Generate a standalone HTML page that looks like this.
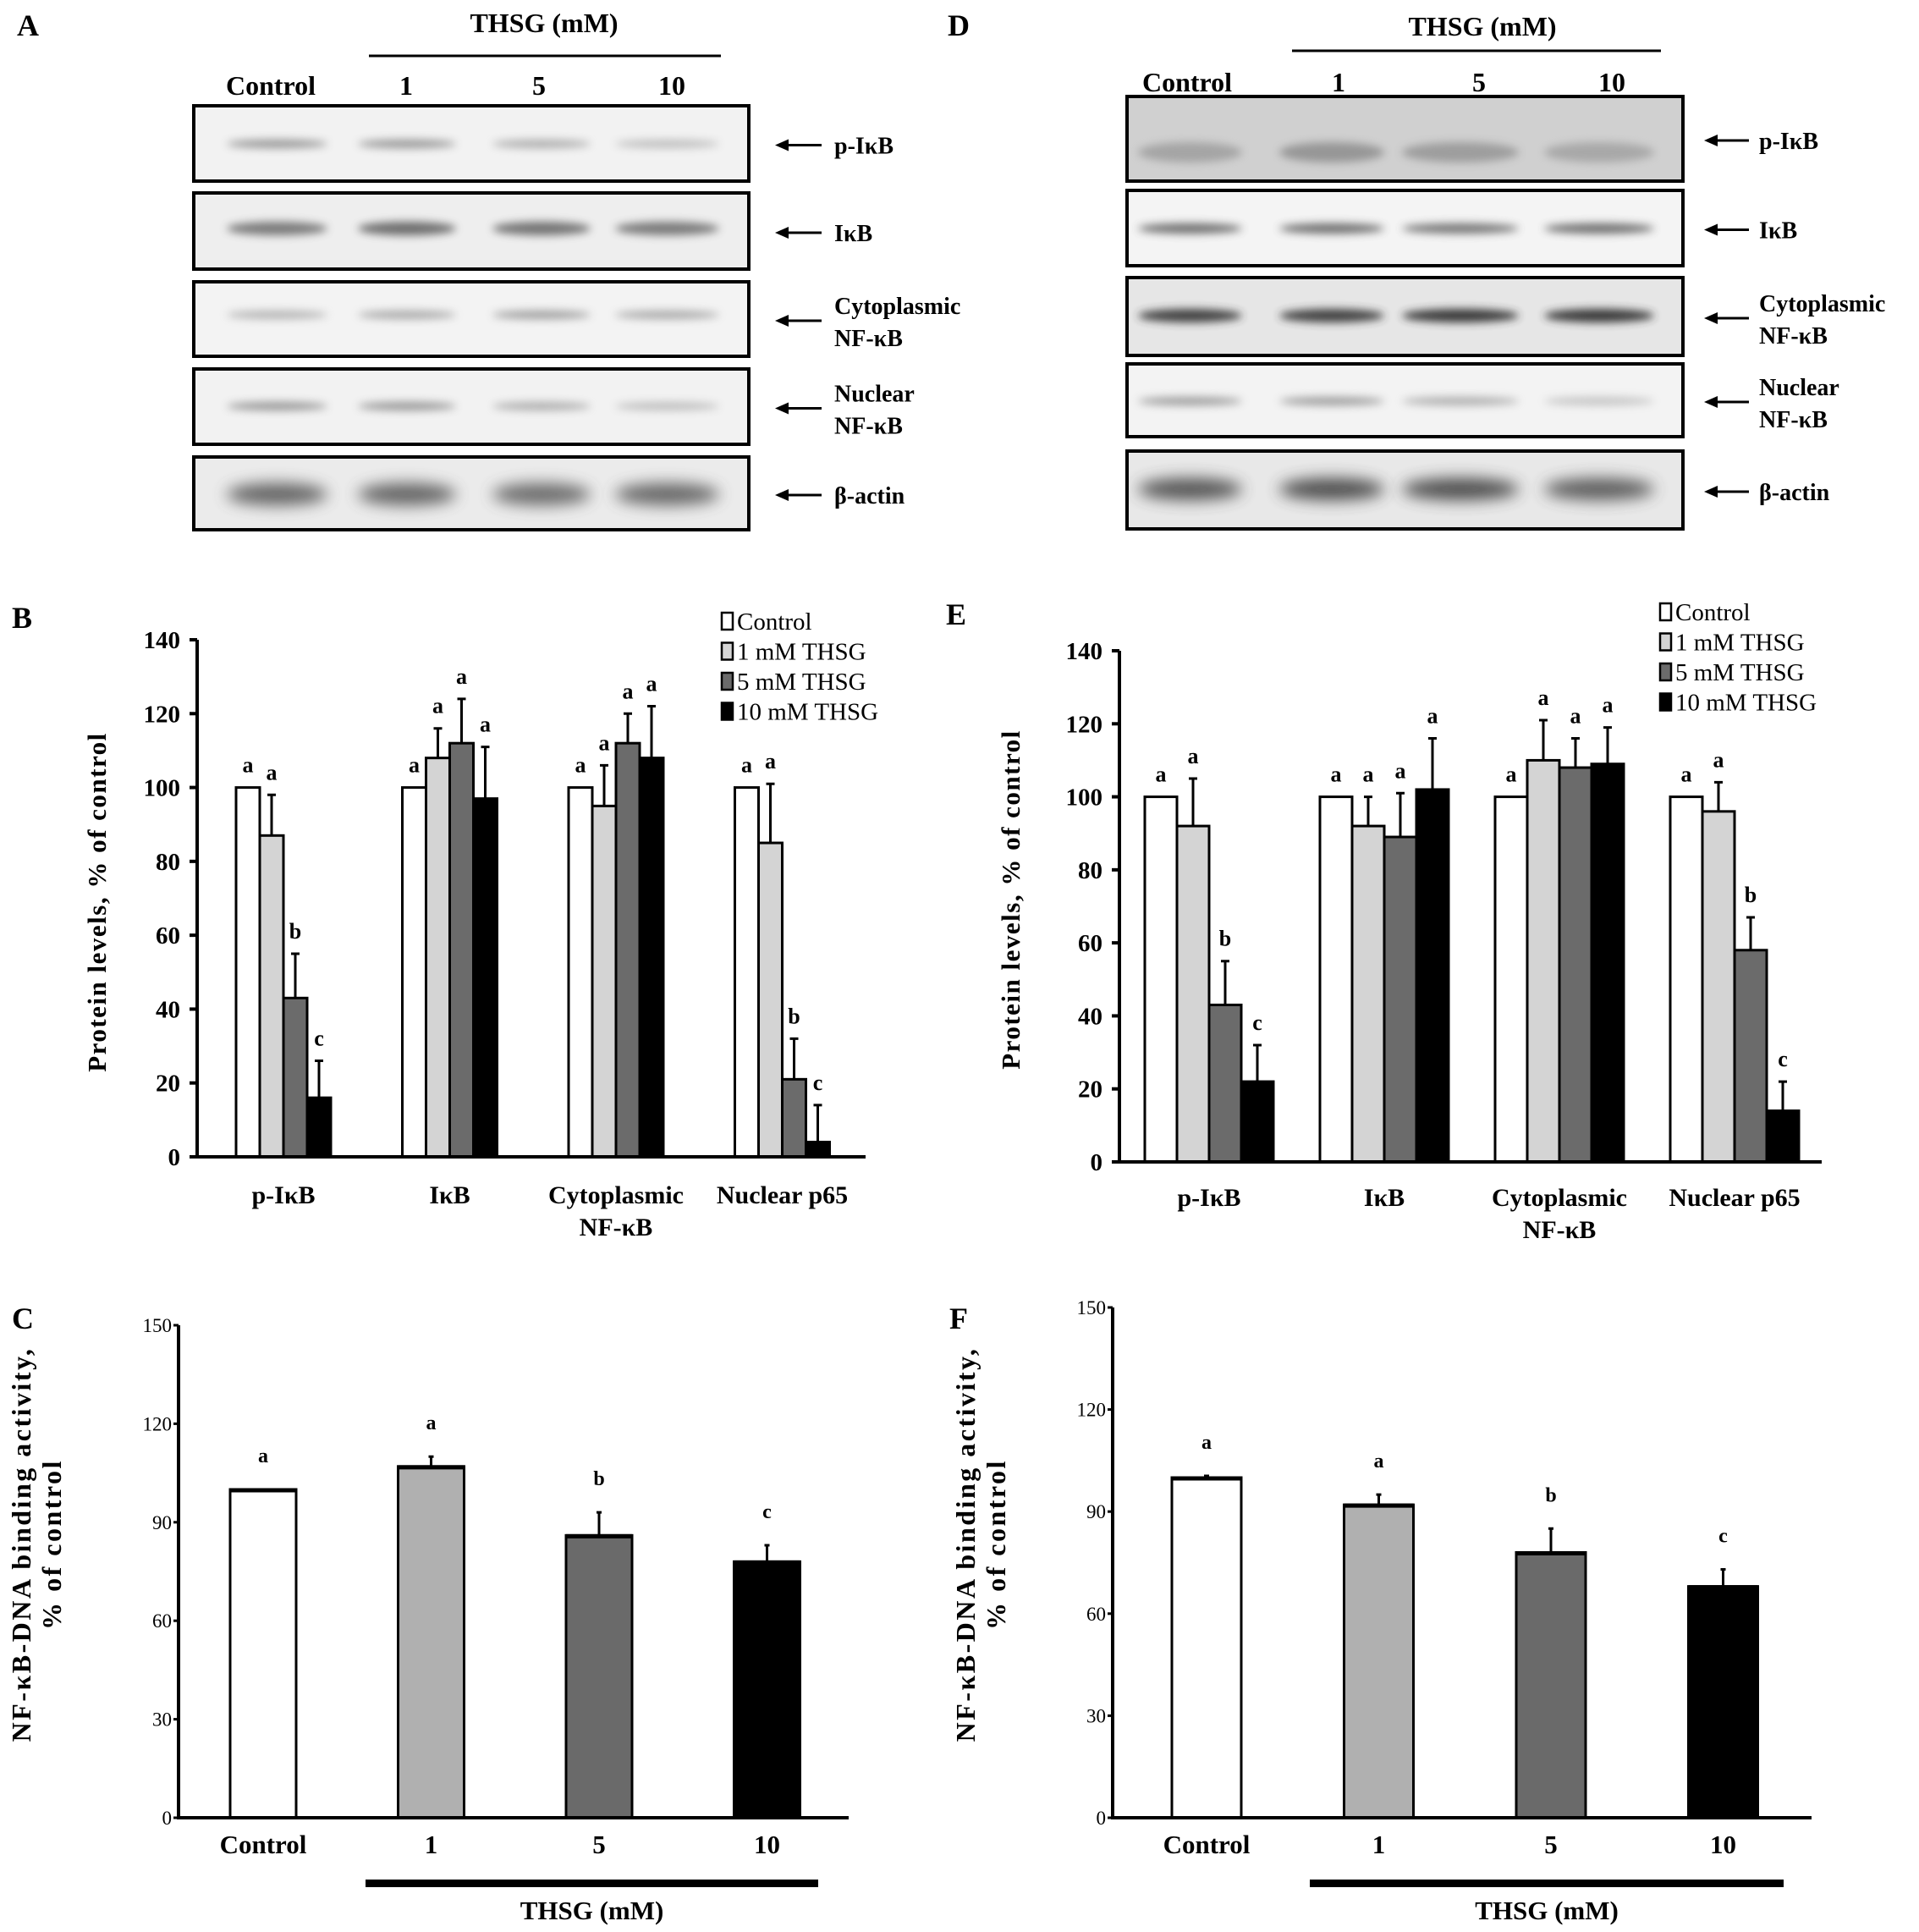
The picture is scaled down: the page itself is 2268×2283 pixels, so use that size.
<!DOCTYPE html>
<html><head><meta charset="utf-8"><style>
html,body{margin:0;padding:0;background:#fff}
svg{display:block}
text{font-family:"Liberation Serif",serif}
.b{font-weight:bold}
</style></head><body>
<svg id="fig" width="2268" height="2283" viewBox="0 0 2268 2283" xmlns="http://www.w3.org/2000/svg">
<defs>
<filter id="blur" x="-20%" y="-100%" width="140%" height="300%"><feGaussianBlur stdDeviation="5"/></filter>
<filter id="blur2" x="-20%" y="-100%" width="140%" height="300%"><feGaussianBlur stdDeviation="9"/></filter>
</defs>
<g id="blots"></g>
<g id="charts"></g>
</svg>
<script>
// ---------- Chart data ----------
const groupCatsB = ["p-I\u03baB", "I\u03baB", "Cytoplasmic|NF-\u03baB", "Nuclear p65"];
const seriesNames = ["Control", "1 mM THSG", "5 mM THSG", "10 mM THSG"];
const valsB = [[100, 87, 43, 16], [100, 108, 112, 97], [100, 95, 112, 108], [100, 85, 21, 4]];
const errB  = [[0, 11, 12, 10], [0, 8, 12, 14], [0, 11, 8, 14], [0, 16, 11, 10]];
const letB  = [["a","a","b","c"], ["a","a","a","a"], ["a","a","a","a"], ["a","a","b","c"]];
const valsE = [[100, 92, 43, 22], [100, 92, 89, 102], [100, 110, 108, 109], [100, 96, 58, 14]];
const errE  = [[0, 13, 12, 10], [0, 8, 12, 14], [0, 11, 8, 10], [0, 8, 9, 8]];
const letE  = [["a","a","b","c"], ["a","a","a","a"], ["a","a","a","a"], ["a","a","b","c"]];
const ticksBE = [0, 20, 40, 60, 80, 100, 120, 140];
const catsC = ["Control", "1", "5", "10"];
const valsC = [100, 107, 86, 78];
const errC  = [0, 3, 7, 5];
const letC  = ["a", "a", "b", "c"];
const valsF = [100, 92, 78, 68];
const errF  = [0.5, 3, 7, 5];
const letF  = ["a", "a", "b", "c"];
const ticksCF = [0, 30, 60, 90, 120, 150];

const NS = "http://www.w3.org/2000/svg";
const charts = document.getElementById("charts");
const blots = document.getElementById("blots");
function mk(tag, attrs, parent, txt) {
  const e = document.createElementNS(NS, tag);
  for (const k in attrs) e.setAttribute(k, attrs[k]);
  if (txt !== undefined) e.textContent = txt;
  (parent || charts).appendChild(e);
  return e;
}
const fillsBE = ["#ffffff", "#d4d4d4", "#6b6b6b", "#000000"];
const fillsCF = ["#ffffff", "#b0b0b0", "#6a6a6a", "#000000"];

function grouped(cfg) {
  const g = mk("g", {});
  
  
  const y = v => cfg.y0 - v * (cfg.y0 - cfg.yTop) / 140;
  cfg.vals.forEach((grp, gi) => {
    grp.forEach((v, si) => {
      const x = cfg.gx0 + gi * cfg.gsp + si * cfg.bw;
      const r = mk("rect", {x: x, y: y(v), width: cfg.bw, height: cfg.y0 - y(v), fill: fillsBE[si], stroke: "#000", "stroke-width": 3}, g);
      
      
      const e = cfg.err[gi][si];
      const cx = x + cfg.bw / 2;
      if (e > 0) {
        const eb = mk("path", {d: `M${cx},${y(v)} V${y(v + e)} M${cx - 5},${y(v + e)} H${cx + 5}`, stroke: "#000", "stroke-width": 3, fill: "none"}, g);
        
        
      }
      const lt = mk("text", {x: cx, y: y(v + e) - 18, "text-anchor": "middle", "font-size": 26, class: "b"}, g, cfg.lets[gi][si]);
      
      
    });
    const lines = groupCatsB[gi].split("|");
    const ccx = cfg.gx0 + gi * cfg.gsp + cfg.bw * 2;
    lines.forEach((ln, li) => {
      const t = mk("text", {x: ccx, y: cfg.catY + li * 38, "text-anchor": "middle", "font-size": 30, class: "b"}, g, ln);
      
      
    });
  });
  const ax = mk("path", {d: `M${cfg.ax},${cfg.yTop} V${cfg.y0} H${cfg.xEnd}`, stroke: "#000", "stroke-width": 4, fill: "none"}, g);
  
  
  ticksBE.forEach(t => {
    mk("line", {x1: cfg.ax - 9, x2: cfg.ax, y1: y(t), y2: y(t), stroke: "#000", "stroke-width": 4}, g);
    const tl = mk("text", {x: cfg.ax - 20, y: y(t) + 10, "text-anchor": "end", "font-size": 29, class: "b"}, g, t);
    
    
  });
  const yt = mk("text", {x: 0, y: 0, transform: `translate(${cfg.titleX},${cfg.titleY}) rotate(-90)`, "text-anchor": "middle", "font-size": 31, class: "b", "letter-spacing": "1.5"}, g, "Protein levels, % of control");
  
  
  seriesNames.forEach((n, i) => {
    const ly = cfg.legY + i * 35.5;
    const sq = mk("rect", {x: cfg.legX, y: ly - 20, width: 13, height: 20, fill: fillsBE[i], stroke: "#000", "stroke-width": 2.5}, g);
    
    
    const lt = mk("text", {x: cfg.legX + 18, y: ly, "font-size": 29}, g, n);
    
    
  });
}
grouped({name: "chart-b", vals: valsB, err: errB, lets: letB, ax: 233, y0: 1367, yTop: 756, xEnd: 1023, gx0: 279, gsp: 196.5, bw: 28, catY: 1422, titleX: 125, titleY: 1066, legX: 853, legY: 744});
grouped({name: "chart-e", vals: valsE, err: errE, lets: letE, ax: 1323, y0: 1373, yTop: 769, xEnd: 2153, gx0: 1353, gsp: 207, bw: 38, catY: 1425, titleX: 1205, titleY: 1063, legX: 1962, legY: 733});

function simple(cfg) {
  const g = mk("g", {});
  
  
  const y = v => cfg.y0 - v * (cfg.y0 - cfg.yTop) / 150;
  cfg.vals.forEach((v, i) => {
    const cx = cfg.cx0 + i * cfg.sp;
    const r = mk("rect", {x: cx - cfg.bw / 2, y: y(v), width: cfg.bw, height: cfg.y0 - y(v), fill: fillsCF[i], stroke: "#000", "stroke-width": 3}, g);
    
    
    mk("line", {x1: cx - cfg.bw / 2, x2: cx + cfg.bw / 2, y1: y(v) + 1, y2: y(v) + 1, stroke: "#000", "stroke-width": 5}, g);
    const e = cfg.err[i];
    const eb = mk("path", {d: `M${cx},${y(v)} V${y(v + e)} M${cx - 3},${y(v + e)} H${cx + 3}`, stroke: "#000", "stroke-width": 3, fill: "none"}, g);
    
    
    const lt = mk("text", {x: cx, y: y(v + e) - 32, "text-anchor": "middle", "font-size": 24, class: "b"}, g, cfg.lets[i]);
    
    
    const cl = mk("text", {x: cx, y: 2190, "text-anchor": "middle", "font-size": 31, class: "b"}, g, catsC[i]);
    
    
  });
  const ax = mk("path", {d: `M${cfg.ax},${cfg.yTop} V${cfg.y0} H${cfg.xEnd}`, stroke: "#000", "stroke-width": 4, fill: "none"}, g);
  
  
  ticksCF.forEach(t => {
    mk("line", {x1: cfg.ax - 6, x2: cfg.ax, y1: y(t), y2: y(t), stroke: "#000", "stroke-width": 3}, g);
    const tl = mk("text", {x: cfg.ax - 8, y: y(t) + 8, "text-anchor": "end", "font-size": 23}, g, t);
    
    
  });
  const bar = mk("rect", {x: cfg.barX1, y: 2221, width: cfg.barX2 - cfg.barX1, height: 9, fill: "#000"}, g);
  
  
  const tl = mk("text", {x: (cfg.barX1 + cfg.barX2) / 2, y: 2268, "text-anchor": "middle", "font-size": 31, class: "b"}, g, "THSG (mM)");
  
  
  const t1 = mk("text", {x: 0, y: 0, transform: `translate(${cfg.tX1},${cfg.tY}) rotate(-90)`, "text-anchor": "middle", "font-size": 32, class: "b", "letter-spacing": "2.5"}, g, "NF-\u03baB-DNA binding activity,");
  
  
  const t2 = mk("text", {x: 0, y: 0, transform: `translate(${cfg.tX2},${cfg.tY}) rotate(-90)`, "text-anchor": "middle", "font-size": 32, class: "b", "letter-spacing": "2.5"}, g, "% of control");
  
  
}
simple({name: "chart-c", vals: valsC, err: errC, lets: letC, ax: 211, y0: 2148, yTop: 1566, xEnd: 1003, cx0: 311, sp: 198.5, bw: 78, barX1: 432, barX2: 967, tX1: 36, tX2: 72, tY: 1825});
simple({name: "chart-f", vals: valsF, err: errF, lets: letF, ax: 1315, y0: 2148, yTop: 1545, xEnd: 2141, cx0: 1426, sp: 203.5, bw: 82, barX1: 1548, barX2: 2108, tX1: 1152, tX2: 1188, tY: 1825});

[["A", 20, 42], ["D", 1120, 42], ["B", 14, 742], ["E", 1118, 738], ["C", 14, 1570], ["F", 1122, 1570]].forEach(p => {
  const t = mk("text", {x: p[1], y: p[2], "font-size": 36, class: "b"}, charts, p[0]);
  
  
});

function blotPanel(cfg) {
  const g = mk("g", {}, blots);
  
  
  const h = mk("text", {x: cfg.hx, y: cfg.hy, "text-anchor": "middle", "font-size": 32, class: "b"}, g, "THSG (mM)");
  
  
  mk("line", {x1: cfg.lx1, x2: cfg.lx2, y1: cfg.ly, y2: cfg.ly, stroke: "#000", "stroke-width": 3}, g);
  ["Control", "1", "5", "10"].forEach((l, i) => {
    const t = mk("text", {x: cfg.laneX[i], y: cfg.laneY, "text-anchor": "middle", "font-size": 32, class: "b"}, g, l);
    
    
  });
  cfg.rows.forEach((r, ri) => {
    const box = mk("rect", {x: cfg.bx1, y: r.y1, width: cfg.bx2 - cfg.bx1, height: r.y2 - r.y1, fill: r.bg, stroke: "#000", "stroke-width": 4}, g);
    
    
    const cy = r.by;
    cfg.bands.forEach((b, bi) => {
      mk("ellipse", {cx: (b[0] + b[1]) / 2, cy: cy, rx: (b[1] - b[0]) / 2, ry: r.th, fill: r.col, opacity: r.op[bi], filter: r.th > 12 ? "url(#blur2)" : "url(#blur)"}, g);
    });
    const ay = (r.y1 + r.y2) / 2 + 2;
    mk("path", {d: `M${cfg.ax1 + 14},${ay} H${cfg.ax2}`, stroke: "#000", "stroke-width": 3}, g);
    mk("path", {d: `M${cfg.ax1},${ay} l16,-7 v14 z`, fill: "#000"}, g);
    const lines = r.label.split("|");
    lines.forEach((ln, li) => {
      const t = mk("text", {x: cfg.tx, y: ay + 10 + (lines.length === 2 ? (li === 0 ? -18 : 20) : 0), "font-size": 28, class: "b"}, g, ln);
      
      
    });
  });
}
blotPanel({name: "blot-panel-a", hx: 643, hy: 38, lx1: 436, lx2: 852, ly: 66, laneX: [320, 480, 637, 794], laneY: 112,
  bx1: 229, bx2: 885, ax1: 916, ax2: 971, tx: 986,
  bands: [[268, 387], [423, 539], [582, 698], [727, 850]],
  rows: [
    {y1: 125, y2: 214, bg: "#f2f2f2", by: 170, th: 5, col: "#808080", op: [0.8, 0.8, 0.6, 0.45], label: "p-I\u03baB"},
    {y1: 228, y2: 318, bg: "#eeeeee", by: 270, th: 8, col: "#666", op: [0.85, 0.95, 0.9, 0.85], label: "I\u03baB"},
    {y1: 333, y2: 421, bg: "#f3f3f3", by: 372, th: 5, col: "#8a8a8a", op: [0.6, 0.7, 0.8, 0.7], label: "Cytoplasmic|NF-\u03baB"},
    {y1: 436, y2: 525, bg: "#f2f2f2", by: 480, th: 5, col: "#808080", op: [0.8, 0.8, 0.6, 0.45], label: "Nuclear|NF-\u03baB"},
    {y1: 540, y2: 626, bg: "#ebebeb", by: 584, th: 13, col: "#555", op: [0.9, 0.9, 0.85, 0.88], label: "\u03b2-actin"}
  ]});
blotPanel({name: "blot-panel-d", hx: 1752, hy: 42, lx1: 1527, lx2: 1963, ly: 60, laneX: [1403, 1582, 1748, 1905], laneY: 108,
  bx1: 1332, bx2: 1989, ax1: 2014, ax2: 2067, tx: 2079,
  bands: [[1345, 1468], [1512, 1636], [1657, 1795], [1825, 1955]],
  rows: [
    {y1: 114, y2: 214, bg: "#d0d0d0", by: 180, th: 12, col: "#888", op: [0.6, 0.8, 0.7, 0.55], label: "p-I\u03baB"},
    {y1: 225, y2: 314, bg: "#f4f4f4", by: 270, th: 6, col: "#555", op: [0.85, 0.85, 0.8, 0.85], label: "I\u03baB"},
    {y1: 328, y2: 420, bg: "#e6e6e6", by: 373, th: 8, col: "#333", op: [0.9, 0.9, 0.95, 0.95], label: "Cytoplasmic|NF-\u03baB"},
    {y1: 430, y2: 516, bg: "#f3f3f3", by: 474, th: 5, col: "#808080", op: [0.75, 0.75, 0.6, 0.4], label: "Nuclear|NF-\u03baB"},
    {y1: 533, y2: 625, bg: "#e8e8e8", by: 578, th: 13, col: "#444", op: [0.9, 0.95, 0.95, 0.85], label: "\u03b2-actin"}
  ]});
</script>
</body></html>
